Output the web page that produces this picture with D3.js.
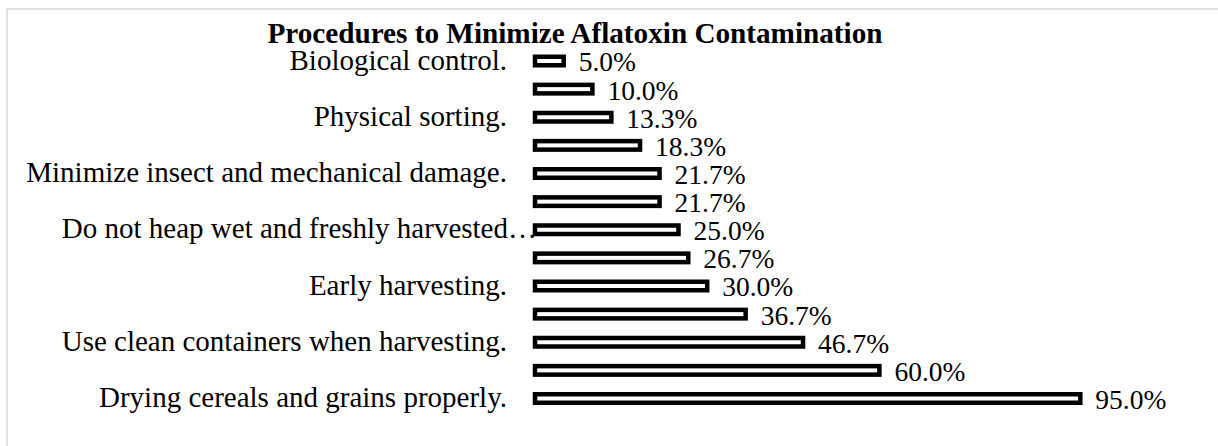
<!DOCTYPE html>
<html>
<head>
<meta charset="utf-8">
<script src="https://cdn.jsdelivr.net/npm/d3@7"></script>
<style>
  html, body { margin: 0; padding: 0; background: #fff; }
  svg { display: block; }
  text { font-family: "Liberation Serif", "Times New Roman", serif; fill: #000; }
</style>
</head>
<body>
<div id="chart"></div>
<script>
// categories top to bottom; empty ones are not labelled on the axis in the original
const categories = [
  "Biological control.",
  "",
  "Physical sorting.",
  "",
  "Minimize insect and mechanical damage.",
  "",
  "Do not heap wet and freshly harvested…",
  "",
  "Early harvesting.",
  "",
  "Use clean containers when harvesting.",
  "",
  "Drying cereals and grains properly."
];
const values = [5.0, 10.0, 13.3, 18.3, 21.7, 21.7, 25.0, 26.7, 30.0, 36.7, 46.7, 60.0, 95.0];
const title = "Procedures to Minimize Aflatoxin Contamination";

const width = 1218;
const height = 446;

const svg = d3.select("#chart").append("svg")
  .attr("width", width)
  .attr("height", height);

// chart area border (runs off the right and bottom of the picture)
svg.append("rect")
  .attr("x", 7).attr("y", 9)
  .attr("width", 1300).attr("height", 500)
  .attr("fill", "none")
  .attr("stroke", "#d9d9d9")
  .attr("stroke-width", 1.5);

svg.append("text")
  .attr("x", 575)
  .attr("y", 43)
  .attr("text-anchor", "middle")
  .style("font-size", "29.2px")
  .style("font-weight", "bold")
  .text(title);

const x = d3.scaleLinear().domain([0, 100]).range([535, 1109]);
const y = d3.scalePoint().domain(d3.range(categories.length)).range([61, 398.5]);

const barH = 8.5;

svg.selectAll(".bar")
  .data(values)
  .enter().append("rect")
  .attr("class", "bar")
  .attr("x", x(0))
  .attr("y", (d, i) => y(i) - barH / 2)
  .attr("width", d => x(d) - x(0))
  .attr("height", barH)
  .attr("fill", "#fff")
  .attr("stroke", "#000")
  .attr("stroke-width", 4.5);

// value labels
svg.selectAll(".val")
  .data(values)
  .enter().append("text")
  .attr("class", "val")
  .attr("x", d => x(d) + 15)
  .attr("y", (d, i) => y(i))
  .attr("dy", "0.38em")
  .style("font-size", "27.5px")
  .text(d => d3.format(".1f")(d) + "%");

// category labels (every other one, as in the source)
svg.selectAll(".cat")
  .data(categories)
  .enter().append("text")
  .attr("class", "cat")
  .attr("x", d => d.endsWith("…") ? x(0) + 2 : 507)
  .attr("y", (d, i) => y(i))
  .attr("dy", "0.3em")
  .attr("text-anchor", "end")
  .style("font-size", "29px")
  .text(d => d);
</script>
</body>
</html>
